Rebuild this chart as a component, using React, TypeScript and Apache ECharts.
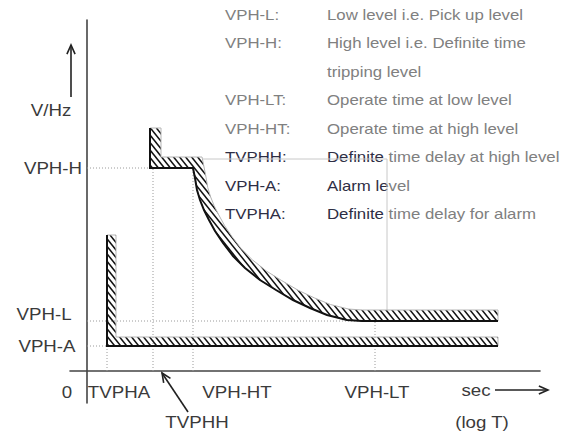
import React, { useEffect, useRef } from "react";
import * as echarts from "echarts";

// Axis extents (x: log T, arbitrary units; y: V/Hz, arbitrary units)
const X_RANGE = [-1.7, 45.3];
const Y_RANGE = [-3.2, 35.1];

// Alarm characteristic (TVPHA vertical, then VPH-A level)
const alarmX = [2.0, 2.0, 41.1];
const alarmY = [13.6, 2.5, 2.5];

// Trip characteristic (TVPHH definite time, VPH-H, inverse curve, VPH-L)
const tripX = [6.3, 6.3, 10.6, 10.8, 11.0, 11.3, 11.7, 12.2, 12.8, 13.6, 14.6, 15.8, 17.3, 18.9, 20.6, 22.3, 24.0, 26.0, 27.5, 28.8, 41.1];
const tripY = [24.3, 20.3, 20.3, 19.3, 18.1, 17.1, 16.1, 15.1, 14.0, 12.8, 11.5, 10.3, 9.1, 8.1, 7.1, 6.3, 5.6, 5.1, 5.0, 5.0, 5.0];

// Levels and their dotted guides (horizontal from y axis)
const levelValues = [2.5, 5.0, 20.3]; // VPH-A, VPH-L, VPH-H
const levelGuideEnds = [2.0, 28.8, 6.3];
// Times and their dotted guides (vertical from x axis)
const timeValues = [2.0, 6.6, 10.6, 28.8]; // TVPHA, TVPHH, VPH-HT, VPH-LT
const timeGuideEnds = [2.5, 20.3, 20.3, 5.0];

// Legend frame
const boxX = [11.6, 30.0, 30.0];
const boxY = [21.2, 21.2, 6.0];

// Arrows: [x1, y1, x2, y2]
const arrowData = [
  [-1.6, 27.4, -1.6, 32.6],
  [40.8, -1.9, 46.1, -1.9],
  [10.1, -4.1, 7.5, -0.2],
];

// Axis annotations
const labelTexts = ["V/Hz", "VPH-H", "VPH-L", "VPH-A", "0", "TVPHA", "VPH-HT", "VPH-LT", "sec", "TVPHH", "(log T)"];
const labelX = [-3.6, -3.4, -4.3, -4.0, -2.0, 3.2, 15.0, 29.0, 38.9, 11.0, 39.5];
const labelY = [26.1, 20.3, 5.7, 2.5, -2.1, -2.1, -2.1, -2.1, -1.9, -5.1, -5.1];

// Legend
const legendKeys = ["VPH-L:", "VPH-H:", "", "VPH-LT:", "VPH-HT:", "TVPHH:", "VPH-A:", "TVPHA:"];
const legendDescs = [
  "Low level i.e. Pick up level",
  "High level i.e. Definite time",
  "tripping level",
  "Operate time at low level",
  "Operate time at high level",
  "{d|Definite} time delay at high level",
  "{d|Alarm le}vel",
  "{d|Definite} time delay for alarm",
];

const FONT = '"Liberation Sans", Arial, sans-serif';

function hatchRenderer(xs: number[], ys: number[], t: number) {
  return (params: any, api: any) => {
    if (params.dataIndex !== 0) return null;
    const pts: number[][] = xs.map((x, i) => api.coord([x, ys[i]]));
    const n = pts.length;
    const segN: number[][] = [];
    for (let i = 0; i < n - 1; i++) {
      const dx = pts[i + 1][0] - pts[i][0];
      const dy = pts[i + 1][1] - pts[i][1];
      const len = Math.hypot(dx, dy) || 1;
      segN.push([dy / len, -dx / len]);
    }
    const off = pts.map((p, i) => {
      let m: number[];
      if (i === 0) m = [segN[0][0] * t, segN[0][1] * t];
      else if (i === n - 1) m = [segN[n - 2][0] * t, segN[n - 2][1] * t];
      else {
        const a = segN[i - 1];
        const b = segN[i];
        const dot = a[0] * b[0] + a[1] * b[1];
        m = [((a[0] + b[0]) * t) / (1 + dot), ((a[1] + b[1]) * t) / (1 + dot)];
      }
      return [p[0] + m[0], p[1] + m[1]];
    });
    const poly = pts.concat(off.slice().reverse());
    let xmin = Infinity, xmax = -Infinity, ymin = Infinity, ymax = -Infinity;
    poly.forEach((p) => {
      xmin = Math.min(xmin, p[0]); xmax = Math.max(xmax, p[0]);
      ymin = Math.min(ymin, p[1]); ymax = Math.max(ymax, p[1]);
    });
    const k = 0.8;
    const s = 6;
    const lines: any[] = [];
    const c0 = Math.floor((xmin - k * ymax) / s) * s;
    for (let c = c0; c <= xmax - k * ymin; c += s) {
      lines.push({
        type: "line",
        shape: { x1: c + k * ymin, y1: ymin, x2: c + k * ymax, y2: ymax },
        style: { stroke: "#111", lineWidth: 1.5 },
      });
    }
    return {
      type: "group",
      children: [
        { type: "group", clipPath: { type: "polygon", shape: { points: poly } }, children: lines },
        { type: "polygon", shape: { points: poly }, style: { fill: "none", stroke: "#b5b5b5", lineWidth: 1 } },
        { type: "polyline", shape: { points: pts }, style: { fill: "none", stroke: "#111", lineWidth: 2 } },
      ],
    };
  };
}

export default function App() {
  const ref = useRef<HTMLDivElement>(null);
  useEffect(() => {
    document.body.style.margin = "0";
    const chart = echarts.init(ref.current!, null, { renderer: "svg" });
    const guideStyle = { color: "#9a9a9a", width: 1, type: [1, 2] as any };
    const series: any[] = [];
    levelValues.forEach((v, i) => {
      series.push({
        type: "line", symbol: "none", silent: true, z: 1,
        lineStyle: guideStyle,
        data: [[0, v], [levelGuideEnds[i], v]],
      });
    });
    timeValues.forEach((v, i) => {
      series.push({
        type: "line", symbol: "none", silent: true, z: 1,
        lineStyle: guideStyle,
        data: [[v, 0], [v, timeGuideEnds[i]]],
      });
    });
    series.push({
      type: "line", symbol: "none", silent: true, z: 1,
      lineStyle: { color: "#c8c8c8", width: 1 },
      data: boxX.map((x, i) => [x, boxY[i]]),
    });
    series.push({
      type: "custom", silent: true, z: 3,
      renderItem: hatchRenderer(alarmX, alarmY, 9),
      encode: { x: 0, y: 1 },
      data: alarmX.map((x, i) => [x, alarmY[i]]),
    });
    series.push({
      type: "custom", silent: true, z: 3,
      renderItem: hatchRenderer(tripX, tripY, 11),
      encode: { x: 0, y: 1 },
      data: tripX.map((x, i) => [x, tripY[i]]),
    });
    series.push({
      type: "custom", silent: true, z: 4,
      encode: { x: [0, 2], y: [1, 3] },
      data: arrowData,
      renderItem: (params: any, api: any) => {
        const p1 = api.coord([api.value(0), api.value(1)]);
        const p2 = api.coord([api.value(2), api.value(3)]);
        const ang = Math.atan2(p2[1] - p1[1], p2[0] - p1[0]);
        const L = 10, a = 0.42;
        const h1 = [p2[0] - L * Math.cos(ang - a), p2[1] - L * Math.sin(ang - a)];
        const h2 = [p2[0] - L * Math.cos(ang + a), p2[1] - L * Math.sin(ang + a)];
        return {
          type: "group",
          children: [
            { type: "line", shape: { x1: p1[0], y1: p1[1], x2: p2[0], y2: p2[1] }, style: { stroke: "#222", lineWidth: 1.6 } },
            { type: "polyline", shape: { points: [h1, p2, h2] }, style: { stroke: "#222", lineWidth: 1.6, fill: "none" } },
          ],
        };
      },
    });
    series.push({
      type: "custom", silent: true, z: 5,
      encode: { x: 0, y: 1 },
      data: labelX.map((x, i) => [x, labelY[i]]),
      renderItem: (params: any, api: any) => {
        const p = api.coord([api.value(0), api.value(1)]);
        return {
          type: "text",
          x: p[0], y: p[1], scaleX: 1.1,
          style: {
            text: labelTexts[params.dataIndex],
            x: 0, y: 0,
            align: "center", verticalAlign: "middle",
            textAlign: "center", textVerticalAlign: "middle",
            fontSize: 17, fontFamily: FONT, fill: "#3a3a3a",
          },
        };
      },
    });

    const graphic: any[] = [];
    legendKeys.forEach((k, i) => {
      const y = 15 + i * 28.45;
      const dark = i >= 5;
      if (k) {
        graphic.push({
          type: "text", left: undefined, x: 225, y, scaleX: 1.2, silent: true,
          style: {
            text: k, x: 0, y: 0, fontSize: 14, fontFamily: FONT,
            fill: dark ? "#2e2e44" : "#808080",
            align: "left", verticalAlign: "middle", textAlign: "left", textVerticalAlign: "middle",
          },
        });
      }
      graphic.push({
        type: "text", x: 327, y, scaleX: 1.2, silent: true,
        style: {
          text: legendDescs[i], x: 0, y: 0, fontSize: 14, fontFamily: FONT,
          fill: "#808080",
          rich: { d: { fill: "#2e2e44", fontSize: 14, fontFamily: FONT } },
          align: "left", verticalAlign: "middle", textAlign: "left", textVerticalAlign: "middle",
        },
      });
    });

    chart.setOption({
      animation: false,
      backgroundColor: "#ffffff",
      grid: { left: 70, right: 27, top: 20, bottom: 32, containLabel: false },
      xAxis: {
        type: "value", min: X_RANGE[0], max: X_RANGE[1],
        axisLine: { show: true, onZero: true, lineStyle: { color: "#444", width: 1.6 } },
        axisTick: { show: false }, axisLabel: { show: false }, splitLine: { show: false },
      },
      yAxis: {
        type: "value", min: Y_RANGE[0], max: Y_RANGE[1],
        axisLine: { show: true, onZero: true, lineStyle: { color: "#444", width: 1.6 } },
        axisTick: { show: false }, axisLabel: { show: false }, splitLine: { show: false },
      },
      series,
      graphic,
    });
    return () => chart.dispose();
  }, []);
  return <div ref={ref} style={{ width: 567, height: 435 }} />;
}
